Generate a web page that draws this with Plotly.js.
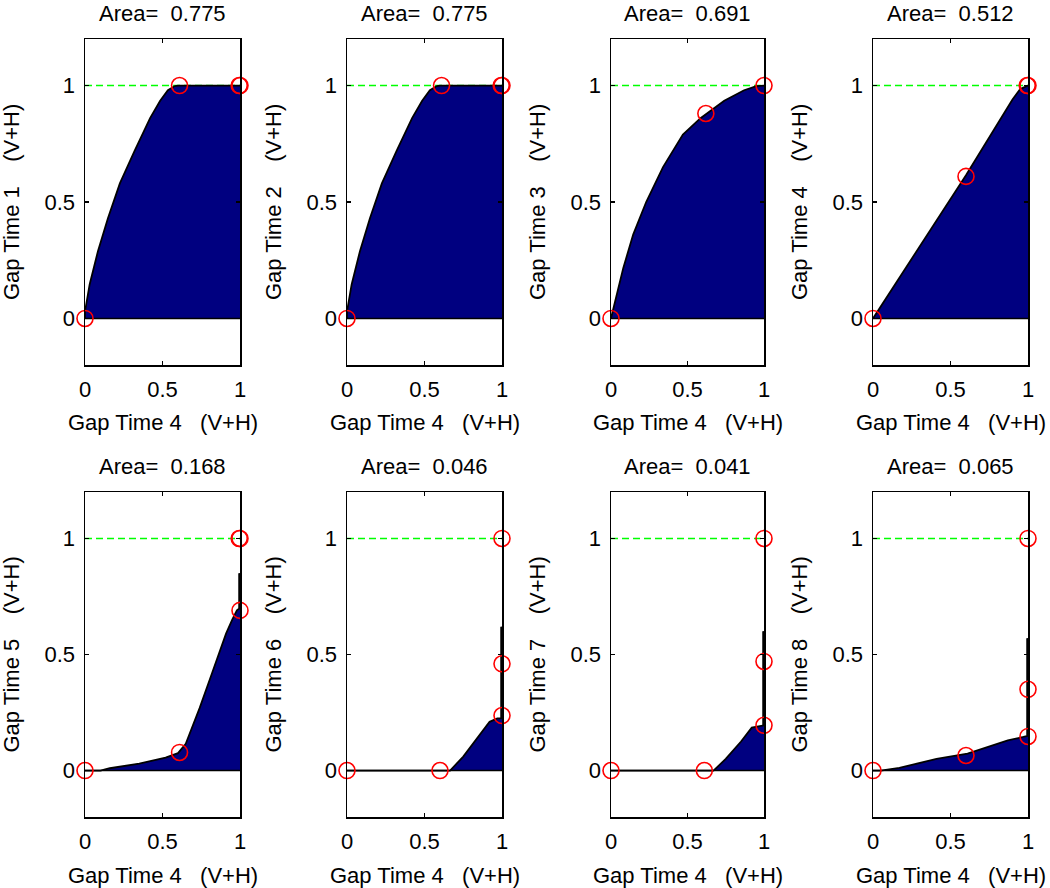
<!DOCTYPE html>
<html>
<head>
<meta charset="utf-8">
<script src="https://cdn.plot.ly/plotly-3.0.1.min.js"></script>
<style>
  body { margin: 0; background: #fff; }
  #plot { width: 1050px; height: 888px; }
</style>
</head>
<body>
<div id="plot"></div>
<script>
// curves (x = Gap Time 4, y = Gap Time k), one per panel
var curveX1 = [0, 0, 0.03, 0.084, 0.148, 0.225, 0.32, 0.42, 0.485, 0.535, 0.58, 0.6, 1];
var curveY1 = [0, 0.03, 0.146, 0.29, 0.43, 0.58, 0.72, 0.86, 0.935, 0.98, 0.998, 1, 1];
var curveX2 = [0, 0, 0.03, 0.084, 0.148, 0.225, 0.32, 0.42, 0.485, 0.535, 0.58, 0.6, 1];
var curveY2 = [0, 0.03, 0.146, 0.29, 0.43, 0.58, 0.72, 0.86, 0.935, 0.98, 0.998, 1, 1];
var curveX3 = [0, 0.026, 0.08, 0.145, 0.23, 0.34, 0.47, 0.585, 0.74, 0.87, 0.95, 1];
var curveY3 = [0, 0.073, 0.216, 0.36, 0.5, 0.65, 0.79, 0.86, 0.935, 0.98, 0.998, 1];
var curveX4 = [0, 0.3, 0.6, 0.9, 0.95, 1];
var curveY4 = [0, 0.305, 0.615, 0.94, 0.985, 1];
var curveX5 = [0, 0.1, 0.16, 0.35, 0.52, 0.6, 0.65, 0.74, 0.82, 0.87, 0.91, 0.95, 0.98, 1, 1];
var curveY5 = [0, 0, 0.01, 0.03, 0.056, 0.075, 0.115, 0.27, 0.42, 0.52, 0.59, 0.65, 0.69, 0.7, 0.85];
var curveX6 = [0, 0.665, 0.75, 0.85, 0.92, 0.97, 1, 1];
var curveY6 = [0, 0, 0.06, 0.15, 0.21, 0.225, 0.225, 0.62];
var curveX7 = [0, 0.67, 0.75, 0.85, 0.92, 0.97, 1, 1];
var curveY7 = [0, 0, 0.05, 0.125, 0.185, 0.19, 0.195, 0.6];
var curveX8 = [0, 0.05, 0.17, 0.41, 0.61, 0.87, 0.97, 1, 1];
var curveY8 = [0, 0, 0.012, 0.05, 0.073, 0.13, 0.145, 0.15, 0.57];

// red circle points
var ptX1 = [0, 0.61, 0.995, 1];  var ptY1 = [0, 1, 1, 1];
var ptX2 = [0, 0.61, 0.995, 1];  var ptY2 = [0, 1, 1, 1];
var ptX3 = [0, 0.62, 1];         var ptY3 = [0, 0.88, 1];
var ptX4 = [0, 0.6, 0.995, 1];   var ptY4 = [0, 0.61, 1, 1];
var ptX5 = [0, 0.61, 1, 0.995, 1]; var ptY5 = [0, 0.078, 0.69, 1, 1];
var ptX6 = [0, 0.6, 1, 1, 1];    var ptY6 = [0, 0, 0.237, 0.46, 1];
var ptX7 = [0, 0.61, 1, 1, 1];   var ptY7 = [0, 0, 0.195, 0.47, 1];
var ptX8 = [0, 0.6, 1, 1, 1];    var ptY8 = [0, 0.065, 0.147, 0.35, 1];

var areas = ["0.775", "0.775", "0.691", "0.512", "0.168", "0.046", "0.041", "0.065"];
var yNames = ["Gap Time 1", "Gap Time 2", "Gap Time 3", "Gap Time 4",
              "Gap Time 5", "Gap Time 6", "Gap Time 7", "Gap Time 8"];
var xName = "Gap Time 4";
var suffix = "(V+H)";
var tickVals = [0, 0.5, 1];
var tickText = ["0", "0.5", "1"];

var curvesX = [curveX1, curveX2, curveX3, curveX4, curveX5, curveX6, curveX7, curveX8];
var curvesY = [curveY1, curveY2, curveY3, curveY4, curveY5, curveY6, curveY7, curveY8];
var ptsX = [ptX1, ptX2, ptX3, ptX4, ptX5, ptX6, ptX7, ptX8];
var ptsY = [ptY1, ptY2, ptY3, ptY4, ptY5, ptY6, ptY7, ptY8];

var W = 1050, H = 888;
var colPx = [[85, 240], [347, 502], [611, 764], [873, 1028]];
var rowPx = [[39, 365], [492, 817]];
var font = "Liberation Sans, Arial, Helvetica, sans-serif";
var fs = 22;
var sp = "\u00a0";
var gap3 = sp + sp + sp;

var data = [];
var annotations = [];
var layout = {
  width: W, height: H,
  margin: {l: 0, r: 0, t: 0, b: 0},
  paper_bgcolor: "#fff", plot_bgcolor: "#fff",
  showlegend: false,
  font: {family: font, size: fs, color: "#000"}
};

for (var i = 0; i < 8; i++) {
  var r = Math.floor(i / 4), c = i % 4;
  var n = i === 0 ? "" : String(i + 1);
  var xa = "x" + n, ya = "y" + n;
  var xs = curvesX[i], ys = curvesY[i];
  var x0 = xs[0], x1 = xs[xs.length - 1];

  var axisCommon = {
    showgrid: false, zeroline: false, showline: true, linecolor: "#000", linewidth: 1.5,
    mirror: "ticks", ticks: "inside", ticklen: 4, tickwidth: 1.5, tickcolor: "#000",
    tickvals: tickVals, ticktext: tickText, fixedrange: true,
    tickfont: {family: font, size: fs, color: "#000"}
  };
  layout["xaxis" + n] = Object.assign({}, axisCommon, {
    domain: [colPx[c][0] / W, colPx[c][1] / W], anchor: ya, range: [0, 1],
    ticklabelstandoff: 4
  });
  layout["yaxis" + n] = Object.assign({}, axisCommon, {
    domain: [1 - rowPx[r][1] / H, 1 - rowPx[r][0] / H], anchor: xa, range: [-0.2, 1.2],
    ticklabelstandoff: 4
  });

  // green dashed reference at 1
  data.push({
    type: "scatter", mode: "lines", xaxis: xa, yaxis: ya,
    x: [x0, x1], y: [1, 1],
    line: {color: "#00ff00", width: 1.5, dash: "7px,4px"}, hoverinfo: "skip"
  });
  // filled area
  data.push({
    type: "scatter", mode: "lines", xaxis: xa, yaxis: ya,
    x: xs, y: ys, fill: "tozeroy", fillcolor: "#000080",
    line: {color: "#000", width: 1.8}, hoverinfo: "skip"
  });
  // vertical tail at the right edge (points sharing the last x) drawn heavier
  var k = xs.length - 1;
  while (k > 0 && xs[k - 1] === x1) k--;
  if (k < xs.length - 1) {
    data.push({
      type: "scatter", mode: "lines", xaxis: xa, yaxis: ya,
      x: xs.slice(k), y: ys.slice(k), cliponaxis: false,
      line: {color: "#000", width: 3.5}, hoverinfo: "skip"
    });
  }
  // baseline
  data.push({
    type: "scatter", mode: "lines", xaxis: xa, yaxis: ya,
    x: [x0, x1], y: [0, 0], line: {color: "#000", width: 1.5}, hoverinfo: "skip"
  });
  // red circles
  data.push({
    type: "scatter", mode: "markers", xaxis: xa, yaxis: ya,
    x: ptsX[i], y: ptsY[i], cliponaxis: false,
    marker: {symbol: "circle-open", size: 16, color: "#ff0000", line: {width: 1.6, color: "#ff0000"}}
  });

  var cx = (colPx[c][0] + colPx[c][1]) / 2 / W;
  var cyPx = (rowPx[r][0] + rowPx[r][1]) / 2;
  annotations.push({
    xref: "paper", yref: "paper", x: cx, y: 1 - (rowPx[r][0] - 26) / H,
    text: "Area=" + sp + sp + areas[i], showarrow: false,
    xanchor: "center", yanchor: "middle", font: {family: font, size: fs, color: "#000"}
  });
  annotations.push({
    xref: "paper", yref: "paper", x: cx, y: 1 - (rowPx[r][1] + 58) / H,
    text: xName + gap3 + suffix, showarrow: false,
    xanchor: "center", yanchor: "middle", font: {family: font, size: fs, color: "#000"}
  });
  annotations.push({
    xref: "paper", yref: "paper", x: (colPx[c][0] - 74) / W, y: 1 - cyPx / H,
    text: yNames[i] + gap3 + sp + suffix, showarrow: false, textangle: -90,
    xanchor: "center", yanchor: "middle", font: {family: font, size: fs, color: "#000"}
  });
}
layout.annotations = annotations;

Plotly.newPlot("plot", data, layout, {displayModeBar: false, staticPlot: true});
</script>
</body>
</html>
